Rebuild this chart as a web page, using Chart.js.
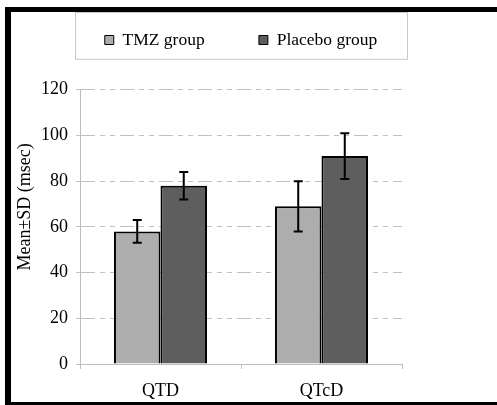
<!DOCTYPE html>
<html>
<head>
<meta charset="utf-8">
<script src="https://cdn.jsdelivr.net/npm/chart.js@4.4.1/dist/chart.umd.min.js"></script>
<style>
  html, body { margin: 0; padding: 0; background: #fff; overflow: hidden; }
  #qt_chart_area { display: block; }
</style>
</head>
<body>
<canvas id="qt_chart_area" width="497" height="405"></canvas>
<script>
const categories = ["QTD", "QTcD"];
const tmz_mean = [58, 69];
const tmz_sd = [5, 11];
const placebo_mean = [78, 91];
const placebo_sd = [6, 10];
const y_ticks = [0, 20, 40, 60, 80, 100, 120];
const series_labels = ["TMZ group", "Placebo group"];
const y_title = "Mean±SD (msec)";

const SERIF = "'Liberation Serif', 'Times New Roman', serif";
Chart.defaults.color = "#000";
Chart.defaults.font.family = SERIF;
Chart.defaults.font.size = 17.5;

// black picture frame (top, left, bottom only)
const outer_frame = {
  id: "outer_frame",
  beforeDraw(chart) {
    const ctx = chart.ctx;
    ctx.save();
    ctx.fillStyle = "#fff";
    ctx.fillRect(0, 0, chart.width, chart.height);
    ctx.fillStyle = "#000";
    ctx.fillRect(5, 7, chart.width - 5, 5);
    ctx.fillRect(5, 7, 6, chart.height - 7);
    ctx.fillRect(5, chart.height - 3, chart.width - 5, 3);
    ctx.restore();
  },
};

// error bars drawn from the sd arrays through the y scale
const error_bars = {
  id: "error_bars",
  afterDatasetsDraw(chart) {
    const ctx = chart.ctx;
    const y = chart.scales.y;
    chart.data.datasets.forEach((ds, i) => {
      chart.getDatasetMeta(i).data.forEach((bar, j) => {
        const hi = y.getPixelForValue(ds.data[j] + ds.sd[j]);
        const lo = y.getPixelForValue(ds.data[j] - ds.sd[j]);
        ctx.save();
        ctx.strokeStyle = "#000";
        ctx.lineWidth = 2;
        ctx.beginPath();
        ctx.moveTo(bar.x, hi); ctx.lineTo(bar.x, lo);
        ctx.moveTo(bar.x - 4.5, hi); ctx.lineTo(bar.x + 4.5, hi);
        ctx.moveTo(bar.x - 4.5, lo); ctx.lineTo(bar.x + 4.5, lo);
        ctx.stroke();
        ctx.restore();
      });
    });
  },
};

// legend frame and the y axis title (sits a bit above centre, as in the original)
const decorations = {
  id: "decorations",
  afterDraw(chart) {
    const ctx = chart.ctx;
    const area = chart.chartArea;
    const lg = chart.legend;
    ctx.save();
    ctx.strokeStyle = "#c8c8c8";
    ctx.lineWidth = 1;
    ctx.strokeRect(area.left - 4.5, lg.top + 0.5, area.right - area.left + 10, lg.bottom - lg.top);
    ctx.translate(area.left - 55, (area.top + area.bottom) / 2 - 20);
    ctx.rotate(-Math.PI / 2);
    ctx.fillStyle = "#000";
    ctx.font = "18px " + SERIF;
    ctx.textAlign = "center";
    ctx.textBaseline = "middle";
    ctx.fillText(y_title, 0, 0);
    ctx.restore();
  },
};

const grid_color = "#c0c0c0";

const qt_chart = new Chart(document.getElementById("qt_chart_area").getContext("2d"), {
  type: "bar",
  data: {
    labels: categories,
    datasets: [
      {
        label: series_labels[0],
        data: tmz_mean,
        sd: tmz_sd,
        backgroundColor: "#adadad",
        borderColor: "#000",
        borderWidth: 2,
      },
      {
        label: series_labels[1],
        data: placebo_mean,
        sd: placebo_sd,
        backgroundColor: "#5e5e5e",
        borderColor: "#000",
        borderWidth: 2,
      },
    ],
  },
  options: {
    responsive: false,
    animation: false,
    devicePixelRatio: 1,
    layout: { padding: { top: 12, left: 11, bottom: 3, right: 95 } },
    datasets: {
      bar: { barPercentage: 1, categoryPercentage: 0.578 },
    },
    plugins: {
      tooltip: { enabled: false },
      legend: {
        position: "top",
        fullSize: false,
        labels: {
          boxWidth: 9,
          boxHeight: 9,
          padding: 19.25,
          font: { size: 17.5, family: SERIF },
          generateLabels(chart) {
            const items = Chart.defaults.plugins.legend.labels.generateLabels(chart);
            items[0].text = items[0].text + " ".repeat(8);
            items.forEach((it) => { it.lineWidth = 1; });
            return items;
          },
        },
      },
      // empty spacer between legend and plot
      title: {
        display: true,
        text: "",
        weight: 500,
        padding: 0,
        font: { size: 31, lineHeight: 1 },
      },
    },
    scales: {
      x: {
        grid: {
          offset: true,
          drawOnChartArea: false,
          drawTicks: true,
          tickLength: 5,
          color: grid_color,
        },
        border: { color: "#bdbdbd", width: 1 },
        ticks: { padding: 11, font: { size: 18, family: SERIF } },
        afterFit(scale) { scale.height = 38; },
      },
      y: {
        min: y_ticks[0],
        max: y_ticks[y_ticks.length - 1],
        afterBuildTicks(scale) { scale.ticks = y_ticks.map((v) => ({ value: v })); },
        grid: {
          color: grid_color,
          tickLength: 4,
          tickColor: grid_color,
          lineWidth: 1,
        },
        border: { color: "#bdbdbd", width: 1, dash: [14, 5, 5, 5, 5, 5] },
        ticks: { padding: 8, font: { size: 18, family: SERIF } },
        afterFit(scale) { scale.width = 69; },
      },
    },
  },
  plugins: [outer_frame, error_bars, decorations],
});
</script>
</body>
</html>
